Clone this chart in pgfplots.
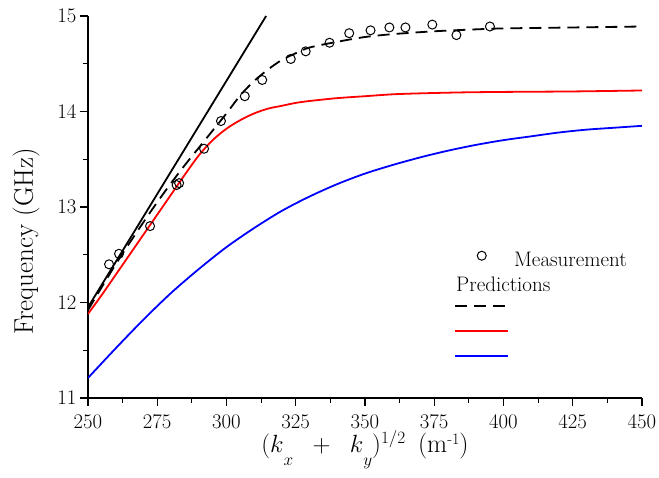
\documentclass[border=0pt]{standalone}
\usepackage{pgfplots}
\pgfplotsset{compat=1.18}
\pgfplotsset{
  lineleg/.style={legend image code/.code={\draw[##1] (0pt,6pt) -- (53pt,6pt);}},
  markleg/.style={legend image code/.code={\draw[##1] plot coordinates {(26.5pt,6pt)};}},
}
\begin{document}
\begin{tikzpicture}
\begin{axis}[
  scale only axis, width=554pt, height=382pt,
  xmin=250, xmax=450, ymin=11, ymax=15,
  axis x line*=bottom, axis y line*=left,
  axis line style={line width=1.2pt},
  every tick/.style={black, line width=1.2pt},
  tick align=outside,
  xtick={250,275,...,450}, ytick={11,12,13,14,15},
  minor x tick num=1, minor y tick num=1,
  major tick length=8pt, minor tick length=5pt,
  tick label style={font=\fontsize{21}{23}\selectfont},
  xticklabel style={yshift=-9pt, inner sep=0pt},
  xlabel={$(k\raisebox{-0.5em}{$\scriptstyle x$}\;\;+\;\;k\raisebox{-0.5em}{$\scriptstyle y$})^{1/2}$\ \,(m\raisebox{0.33em}{\fontsize{16}{16}\selectfont -1})},
  ylabel={Frequency (GHz)},
  every axis x label/.style={at={(axis description cs:0.5,-0.143)}, anchor=base, font=\fontsize{26}{28}\selectfont},
  every axis y label/.style={at={(axis description cs:-0.0993,0.41)}, rotate=90, anchor=base, font=\fontsize{27}{29}\selectfont},
  legend style={at={(axis cs:381.1,12.56)}, anchor=north west, draw=none, fill=none,
    font=\fontsize{21}{23}\selectfont, cells={anchor=west},
    nodes={inner sep=0pt, text height=14pt, text depth=5pt}, row sep=6pt,
    /tikz/every odd column/.append style={column sep=5pt}},
]
\coordinate (BL) at (rel axis cs:0,0);
\coordinate (TR) at (rel axis cs:1,1);
\addplot[only marks, mark=o, mark size=4.5pt, mark options={line width=1pt, black}, markleg]
 coordinates {(257.6,12.40) (261.2,12.51) (272.4,12.80) (282.0,13.23) (282.9,13.25) (291.9,13.61) (298.0,13.90) (306.6,14.16) (312.9,14.33) (323.2,14.55) (328.6,14.63) (337.2,14.72) (344.3,14.82) (352.0,14.85) (358.8,14.88) (364.6,14.88) (374.3,14.91) (383.0,14.80) (395.1,14.89)};
\addlegendentry{Measurement}
\addlegendimage{empty legend}
\addlegendentry{\hspace*{-58pt}Predictions}
\addplot[black, line width=1.8pt, dash pattern=on 12pt off 7pt, smooth, lineleg]
 coordinates {(250,11.92) (260,12.40) (270,12.84) (275,13.05) (280,13.25) (285,13.44) (290,13.62) (295,13.80) (300,13.98) (305,14.17) (310,14.32) (315,14.44) (320,14.54) (325,14.61) (330,14.67) (340,14.73) (350,14.78) (360,14.81) (375,14.84) (390,14.86) (400,14.87) (425,14.88) (450,14.89)};
\addlegendentry{\phantom{x}}
\addplot[red, line width=1.8pt, smooth, lineleg]
 coordinates {(250,11.88) (255,12.08) (260,12.29) (265,12.50) (270,12.71) (275,12.92) (280,13.13) (285,13.34) (290,13.54) (295,13.70) (300,13.82) (305,13.91) (310,13.98) (315,14.03) (320,14.06) (325,14.09) (330,14.11) (340,14.14) (350,14.16) (360,14.18) (370,14.19) (385,14.20) (400,14.205) (425,14.21) (450,14.22)};
\addlegendentry{\phantom{x}}
\addplot[blue, line width=1.8pt, smooth, lineleg]
 coordinates {(250,11.21) (260,11.52) (270,11.82) (280,12.10) (290,12.35) (300,12.58) (310,12.78) (320,12.96) (330,13.11) (340,13.24) (350,13.35) (360,13.44) (370,13.52) (380,13.59) (390,13.65) (400,13.70) (410,13.74) (420,13.78) (430,13.81) (440,13.83) (450,13.85)};
\addlegendentry{\phantom{x}}
\addplot[black, line width=1.8pt, forget plot] coordinates {(250,11.95) (314.3,15)};
\end{axis}
\pgfresetboundingbox
\path[use as bounding box] (BL) ++(-88pt,-80pt) rectangle ([xshift=17pt,yshift=16pt]TR);
\end{tikzpicture}
\end{document}
